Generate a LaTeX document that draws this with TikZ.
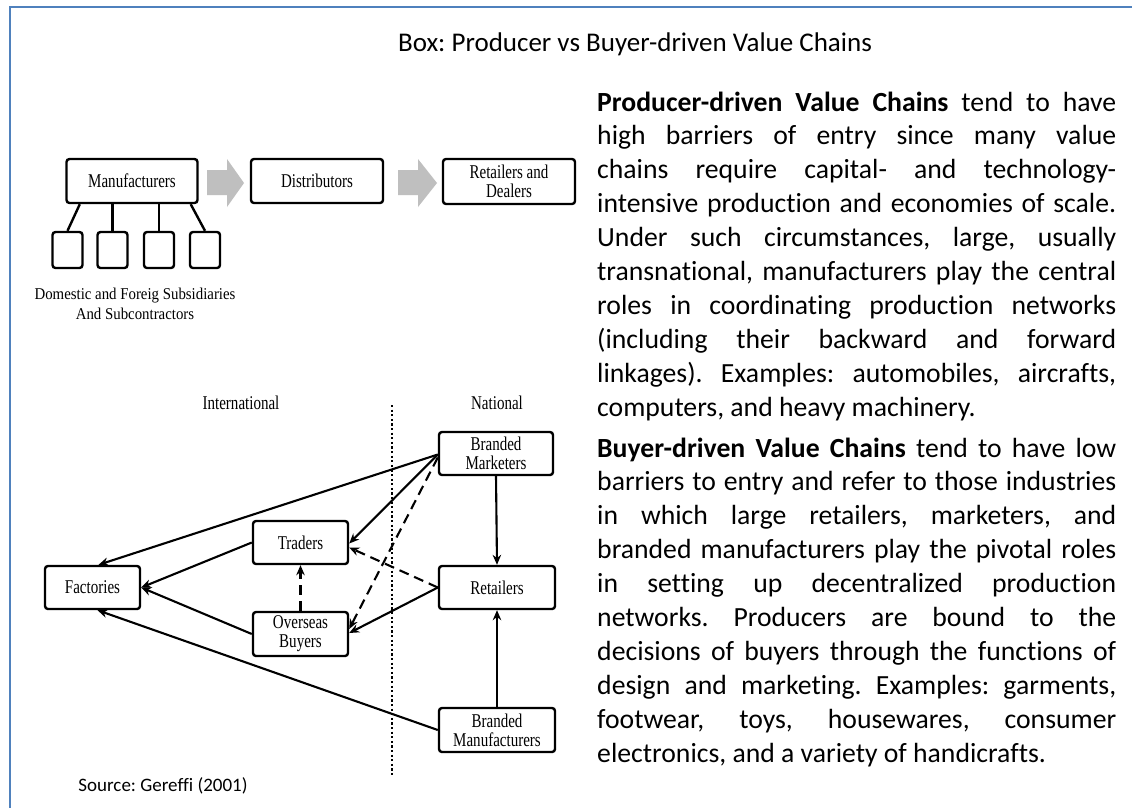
\documentclass[tikz,border=0pt]{standalone}
\usepackage{fontspec}
\setmainfont{Carlito}[Ligatures={NoCommon}]
\newfontfamily\diagfont[FakeStretch=0.77]{Liberation Serif}
\newfontfamily\capfont[FakeStretch=0.9]{Liberation Serif}
\usetikzlibrary{arrows.meta}
\definecolor{framecol}{RGB}{79,129,189}
\definecolor{arrowgray}{RGB}{191,191,191}
\frenchspacing
\tikzset{
  dfont/.style={font=\diagfont\fontsize{19.5}{19}\selectfont},
  boxnode/.style={dfont, draw, line width=2.4pt, rounded corners=3pt, inner sep=0pt, align=center, minimum height=43pt},
  smallbox/.style={draw, line width=2.4pt, rounded corners=3pt, inner sep=0pt, minimum width=30pt, minimum height=36pt},
  conn/.style={line width=2.1pt, -{Stealth[length=10pt,width=8.5pt]}},
  dconn/.style={conn, dash pattern=on 10pt off 6pt},
  plain/.style={line width=2.4pt},
  bigarrow/.style={fill=arrowgray},
  bodypar/.style={anchor=base west, inner sep=0pt}
}
\begin{document}
\begin{tikzpicture}[x=1pt,y=-1pt]
\useasboundingbox (0,0) rectangle (1132,807);
\fill[white] (0,0) rectangle (1132,807);
% frame
\coordinate (fbl) at (10,812);
\coordinate (ftl) at (10,7);
\coordinate (ftr) at (1140,7);
\draw[framecol, line width=2pt] (fbl) -- (ftl) -- (ftr);
% title
\node[anchor=base, inner sep=0pt, font=\fontsize{27}{30}\selectfont] (title) at (635,51) {Box: Producer vs Buyer-driven Value Chains};

% ---------- producer-driven diagram ----------
\node[boxnode, minimum width=131pt, minimum height=44pt] (man) at (132,181) {Manufacturers};
\node[boxnode, minimum width=132pt, minimum height=44pt] (dist) at (317,181) {Distributors};
\node[boxnode, minimum width=132pt, minimum height=45pt] (rd) at (509,181.5) {Retailers and\\Dealers};
\fill[bigarrow] (207,170) -- (227,170) -- (227,159) -- (244,183) -- (227,207) -- (227,195) -- (207,195) -- cycle;
\fill[bigarrow] (398,170) -- (418,170) -- (418,159) -- (437,183) -- (418,207) -- (418,195) -- (398,195) -- cycle;
\node[smallbox] (s1) at (67.5,250) {};
\node[smallbox] (s2) at (112.5,250) {};
\node[smallbox] (s3) at (159,250) {};
\node[smallbox] (s4) at (205,250) {};
\draw[plain] ([xshift=14.5pt]man.south west) -- (s1.north);
\draw[plain] (s2.north |- man.south) -- (s2.north);
\draw[plain] (s3.north |- man.south) -- (s3.north);
\draw[plain] ([xshift=-8pt]man.south east) -- (s4.north);
\node[align=center, inner sep=0pt, font=\capfont\fontsize{16.5}{20}\selectfont] (cap) at (135,304) {Domestic and Foreig Subsidiaries\\And Subcontractors};

% ---------- buyer-driven diagram ----------
\node[dfont, inner sep=0pt] (intl) at (241,403) {International};
\node[dfont, inner sep=0pt] (natl) at (497,403) {National};
\coordinate (dtop) at (392,405);
\coordinate (dbot) at (392,777);
\draw[line width=2.2pt, dash pattern=on 2.2pt off 2.4pt] (dtop) -- (dbot);

\node[boxnode, minimum width=114pt] (bm) at (496,453.5) {Branded\\Marketers};
\node[boxnode, minimum width=116pt] (ret) at (497,587.5) {Retailers};
\node[boxnode, minimum width=116pt, minimum height=44pt] (bman) at (497,730) {Branded\\Manufacturers};
\node[boxnode, minimum width=95pt] (tr) at (300.5,542.5) {Traders};
\node[boxnode, minimum width=95pt, minimum height=44pt] (ob) at (300.5,634) {Overseas\\Buyers};
\node[boxnode, minimum width=95pt] (fac) at (92.5,587.5) {Factories};

\draw[conn] ([yshift=-1pt]bm.west) -- ([xshift=6pt]fac.north);
\draw[conn] ([yshift=-1pt]bm.west) -- ([yshift=-1pt]tr.east);
\draw[dconn] ([yshift=-4pt]bm.west) -- ([yshift=5pt]ob.east);
\draw[dconn] (ret.west) -- ([yshift=-5pt]tr.east);
\draw[conn] (ret.west) -- ([yshift=1pt]ob.east);
\draw[dconn] (ob.north) -- (tr.south);
\draw[conn] (tr.west) -- (fac.east);
\draw[conn] (ob.west) -- (fac.east);
\draw[conn] (bman.west) -- ([xshift=5pt]fac.south);
\draw[conn] (bm.south) -- (ret.north);
\draw[conn] (bman.north) -- (ret.south);

\node[inner sep=0pt, font=\fontsize{19}{22}\selectfont] (src) at (163,786) {Source: Gereffi (2001)};

% ---------- text ----------
\node[bodypar] (p1) at (597,111) {\parbox[t]{519pt}{\fontsize{27.7}{33.9}\selectfont\tolerance=10000 \hyphenpenalty=10000 \frenchspacing
\textbf{Producer-driven Value Chains} tend to have\linebreak
high barriers of entry since many value\linebreak
chains require capital- and technology-\linebreak
intensive production and economies of scale.\linebreak
Under such circumstances, large, usually\linebreak
transnational, manufacturers play the central\linebreak
roles in coordinating production networks\linebreak
(including their backward and forward\linebreak
linkages). Examples: automobiles, aircrafts,\linebreak
computers, and heavy machinery.}};

\node[bodypar] (p2) at (597,457) {\parbox[t]{519pt}{\fontsize{27.7}{33.9}\selectfont\tolerance=10000 \hyphenpenalty=10000 \frenchspacing
\textbf{Buyer-driven Value Chains} tend to have low\linebreak
barriers to entry and refer to those industries\linebreak
in which large retailers, marketers, and\linebreak
branded manufacturers play the pivotal roles\linebreak
in setting up decentralized production\linebreak
networks. Producers are bound to the\linebreak
decisions of buyers through the functions of\linebreak
design and marketing. Examples: garments,\linebreak
footwear, toys, housewares, consumer\linebreak
electronics, and a variety of handicrafts.}};
\end{tikzpicture}
\end{document}
